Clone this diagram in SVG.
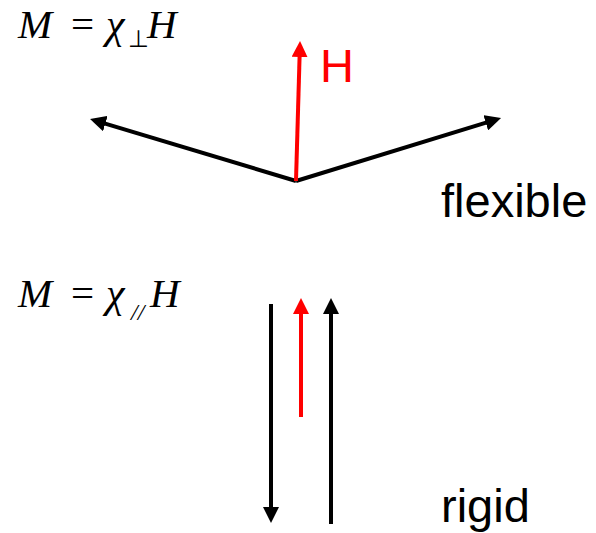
<svg xmlns="http://www.w3.org/2000/svg" width="596" height="533" viewBox="0 0 596 533">
  <style>
    .math { font-family: "Liberation Serif", "Times New Roman", serif; font-size: 41px; fill: #000; }
    .it { font-style: italic; }
    .chi { font-size: 42px; }
    .sub { font-family: "Liberation Serif", "Times New Roman", serif; font-size: 24px; fill: #000; }
    .lbl { font-family: "Liberation Sans", Arial, sans-serif; font-size: 47px; fill: #000; }
    .blk { stroke: #000; stroke-width: 4; fill: none; marker-end: url(#ahB); }
    .red { stroke: #ff0000; stroke-width: 4; fill: none; marker-end: url(#ahR); }
  </style>
  <defs>
    <marker id="ahB" markerUnits="userSpaceOnUse" viewBox="0 0 16 16" markerWidth="16" markerHeight="16" refX="8" refY="8" orient="auto">
      <path d="M0,0 L16,8 L0,16 z" fill="#000"/>
    </marker>
    <marker id="ahR" markerUnits="userSpaceOnUse" viewBox="0 0 16 16" markerWidth="16" markerHeight="16" refX="8" refY="8" orient="auto">
      <path d="M0,0 L16,8 L0,16 z" fill="#ff0000"/>
    </marker>
  </defs>

  <g id="formula-perp">
    <text class="math" y="38"><tspan class="it" x="18">M</tspan><tspan x="71">=</tspan><tspan class="it chi" x="106">χ</tspan></text>
    <text class="sub" x="128" y="47">⊥</text>
    <text class="math it" x="147" y="38">H</text>
  </g>

  <g id="formula-par">
    <text class="math" y="307"><tspan class="it" x="18">M</tspan><tspan x="71">=</tspan><tspan class="it chi" x="106">χ</tspan></text>
    <text class="sub it" x="131" y="320">//</text>
    <text class="math it" x="150" y="307">H</text>
  </g>

  <g id="connectors">
    <line class="blk" x1="296" y1="181" x2="97.7" y2="121.3"/>
    <line class="blk" x1="296" y1="181" x2="493.4" y2="120.4"/>
    <line class="red" x1="296" y1="181" x2="299.8" y2="49"/>
    <line class="blk" x1="271" y1="304" x2="271" y2="515"/>
    <line class="red" x1="301" y1="417" x2="301" y2="306"/>
    <line class="blk" x1="331" y1="524" x2="331" y2="306"/>
  </g>

  <g id="label-H">
    <text class="lbl" x="320" y="82" style="fill:#ff0000">H</text>
  </g>
  <g id="label-flexible">
    <text class="lbl" x="441" y="217">flexible</text>
  </g>
  <g id="label-rigid">
    <text class="lbl" x="441" y="522">rigid</text>
  </g>
</svg>
